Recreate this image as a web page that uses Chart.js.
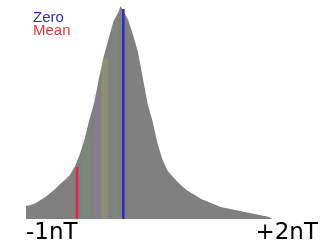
<!DOCTYPE html>
<html>
<head>
<meta charset="utf-8">
<script src="https://cdn.jsdelivr.net/npm/chart.js@4"></script>
<style>
  html, body { margin: 0; padding: 0; background: #fff; }
  #wrap { width: 325px; height: 250px; }
</style>
</head>
<body>
<div id="wrap"><canvas id="histChart" width="325" height="250"></canvas></div>
<script>
// field values (nT) and counts
const binValues = [-1.00, -0.95, -0.90, -0.85, -0.80, -0.75, -0.70, -0.65, -0.60, -0.55,
  -0.50, -0.45, -0.40, -0.35, -0.30, -0.25, -0.20, -0.15, -0.10, -0.05,
  -0.03, 0.00, 0.05, 0.10, 0.15, 0.20, 0.25, 0.30, 0.35, 0.40, 0.45,
  0.50, 0.55, 0.60, 0.65, 0.70, 0.75, 0.80, 0.85, 0.90, 0.95,
  1.00, 1.05, 1.10, 1.15, 1.20, 1.25, 1.30, 1.35, 1.40, 1.45, 1.50, 1.53];
const binCounts = [13, 14, 16, 19, 22, 26, 30, 35, 39, 44,
  52, 64, 79, 99, 116, 141, 163, 181, 198, 207,
  213, 208, 199, 184, 167, 141, 115, 98, 76, 60, 49,
  43, 38, 33, 29, 26, 23, 20, 18, 16, 14,
  12, 11, 10, 9, 8, 7, 6, 5, 4, 3, 2, 0];

const zeroValue = 0;
const zeroHeight = 210;
const meanValue = -0.476;
const meanHeight = 52;

// faint tinted bands inside the peak
const bandValues = [-0.39, -0.27, -0.19, -0.09];
const bandHeights = [80, 125, 160, 196];
const bandColors = ['rgba(90,170,110,0.18)', 'rgba(170,120,190,0.14)', 'rgba(200,200,70,0.2)', 'rgba(120,170,90,0.14)'];

const axisMin = -1;
const axisMax = 2;
const tickValues = [-1, 2];
const tickLabels = ['-1nT', '+2nT'];
const legendLabels = ['Zero', 'Mean'];
const legendColors = ['#2b2bb0', '#e0383c'];

const vline = (x, h) => [{ x: x, y: 0 }, { x: x, y: h }];

const datasets = [
  {
    label: legendLabels[0],
    data: vline(zeroValue, zeroHeight),
    borderColor: '#2a2ac8',
    borderWidth: 2.5,
    pointRadius: 0,
    order: 1
  },
  {
    label: legendLabels[1],
    data: vline(meanValue, meanHeight),
    borderColor: '#e0283c',
    borderWidth: 2.5,
    pointRadius: 0,
    order: 1
  }
];
bandValues.forEach((v, i) => {
  datasets.push({
    label: 'band' + i,
    data: vline(v, bandHeights[i]),
    borderColor: bandColors[i],
    borderWidth: 7,
    pointRadius: 0,
    order: 2
  });
});
datasets.push({
  label: 'Histogram',
  data: binValues.map((v, i) => ({ x: v, y: binCounts[i] })),
  borderWidth: 0,
  borderColor: '#808080',
  backgroundColor: '#808080',
  fill: 'origin',
  pointRadius: 0,
  tension: 0,
  order: 3
});

// Zero / Mean text in the top-left corner
const legendText = {
  id: 'legendText',
  afterDraw(chart) {
    const ctx = chart.ctx;
    ctx.save();
    ctx.font = '15px "Liberation Sans"';
    ctx.textBaseline = 'top';
    legendLabels.forEach((t, i) => {
      ctx.fillStyle = legendColors[i];
      ctx.fillText(t, 33, 10 + i * 13);
    });
    ctx.restore();
  }
};

new Chart(document.getElementById('histChart'), {
  type: 'line',
  data: { datasets: datasets },
  options: {
    responsive: false,
    animation: false,
    layout: { padding: { left: 26, right: 7, top: 0, bottom: 0 } },
    plugins: {
      legend: { display: false },
      tooltip: { enabled: false }
    },
    scales: {
      x: {
        type: 'linear',
        min: axisMin,
        max: axisMax,
        grid: { display: false, drawTicks: false },
        border: { display: false },
        afterBuildTicks: s => { s.ticks = tickValues.map(v => ({ value: v })); },
        afterFit: s => { s.height = 31; },
        ticks: {
          align: 'inner',
          padding: 0,
          maxRotation: 0,
          color: '#000',
          font: { family: 'DejaVu Sans', size: 23 },
          callback: v => tickLabels[tickValues.indexOf(v)]
        }
      },
      y: { display: false, min: 0, max: 219 }
    }
  },
  plugins: [legendText]
});
</script>
</body>
</html>
